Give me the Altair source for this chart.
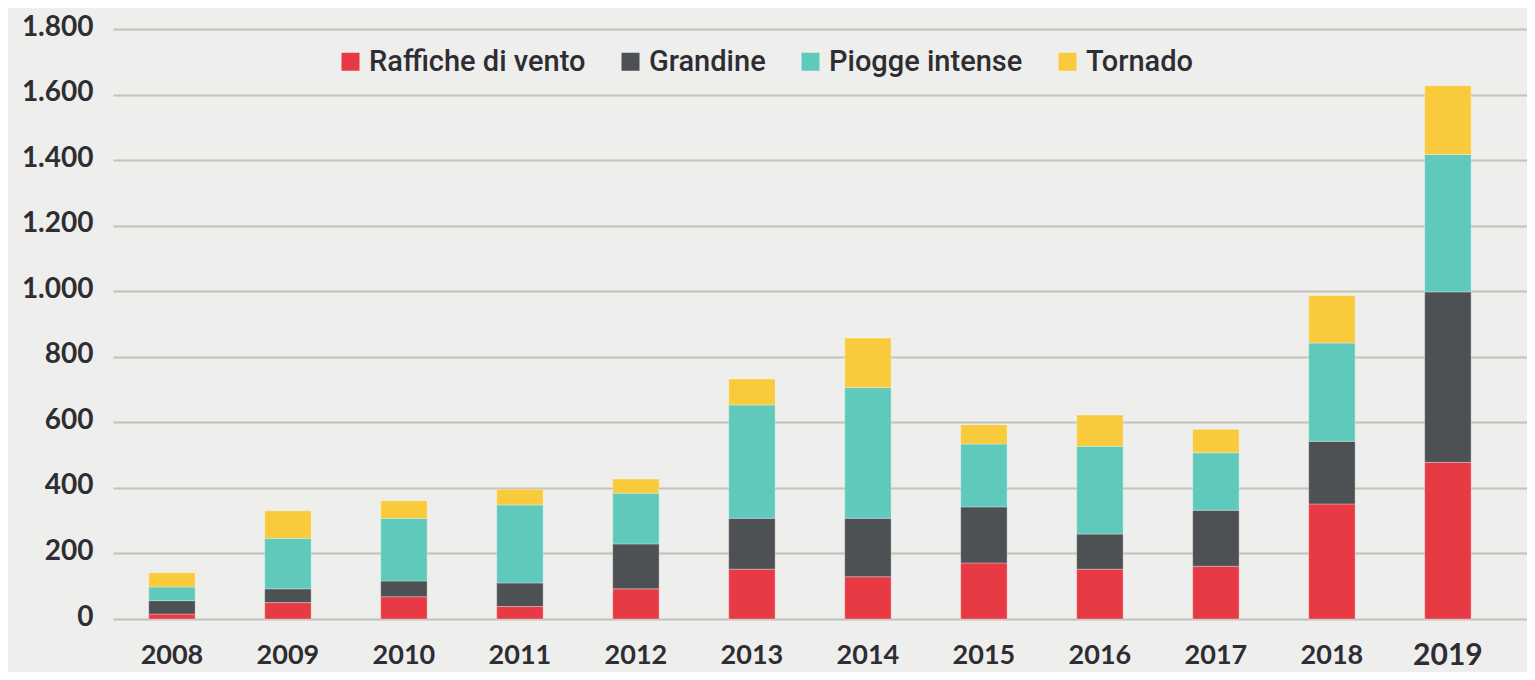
import altair as alt
import pandas as pd

years = ["2008", "2009", "2010", "2011", "2012", "2013", "2014", "2015", "2016", "2017", "2018", "2019"]
categories = ["Raffiche di vento", "Grandine", "Piogge intense", "Tornado"]
colors = ["#E83A45", "#4D5154", "#5FCABC", "#F9CB3C"]

raffiche = [15, 50, 68, 38, 92, 152, 129, 171, 152, 161, 351, 478]
grandine = [41, 42, 48, 72, 137, 155, 178, 171, 107, 171, 191, 520]
piogge = [42, 154, 191, 238, 155, 346, 399, 192, 268, 175, 300, 419]
tornado = [43, 84, 54, 48, 43, 79, 151, 59, 95, 72, 145, 210]

series = [raffiche, grandine, piogge, tornado]
rows = []
for k, (cat, vals) in enumerate(zip(categories, series)):
    for y, v in zip(years, vals):
        rows.append({"anno": y, "tipo": cat, "valore": v, "k": k})
df = pd.DataFrame(rows)

text_color = "#2E2D33"

chart = alt.Chart(df).mark_bar(stroke="#ffffff", strokeWidth=1, strokeOpacity=0.3).encode(
    x=alt.X(
        "anno:N",
        sort=years,
        scale=alt.Scale(paddingInner=0.6, paddingOuter=0.395, align=0.39, round=False),
        axis=alt.Axis(
            title=None, domain=False, ticks=False, tickSize=0, labelAngle=0,
            labelFont="Lato", labelFontWeight="bold", labelColor=text_color,
            labelFontSize=alt.condition("datum.value == '2019'", alt.value(30), alt.value(27)),
            labelBaseline="middle", labelPadding=36,
        ),
    ),
    y=alt.Y(
        "valore:Q",
        stack="zero",
        scale=alt.Scale(domain=[0, 1800], nice=False),
        axis=alt.Axis(
            title=None, domain=False, ticks=False, tickSize=0,
            values=list(range(0, 1801, 200)),
            grid=True, gridColor="#C2C2BA", gridWidth=2,
            labelFont="Lato", labelFontWeight="bold", labelColor=text_color,
            labelFontSize=28, labelPadding=20, labelOffset=-2,
            labelExpr="replace(format(datum.value, ','), ',', '.')",
        ),
    ),
    color=alt.Color(
        "tipo:N",
        sort=categories,
        scale=alt.Scale(domain=categories, range=colors),
        legend=alt.Legend(
            title=None, orient="none", legendX=223, legendY=18, direction="horizontal",
            symbolType="square", symbolSize=324, symbolStrokeWidth=0, symbolOpacity=1,
            labelFont="Roboto", labelFontSize=29, labelFontWeight=500,
            labelColor=text_color, labelOffset=4, columnPadding=30, padding=0,
            labelLimit=400,
        ),
    ),
    order=alt.Order("k:Q", sort="ascending"),
).properties(
    width=1414,
    height=590,
    background="#EEEEEC",
    padding={"left": 105, "top": 21, "right": 0, "bottom": 53},
    autosize=alt.AutoSizeParams(type="none"),
).configure_view(stroke=None)

chart.save("out.html", embed_options={"renderer": "svg", "actions": False})
